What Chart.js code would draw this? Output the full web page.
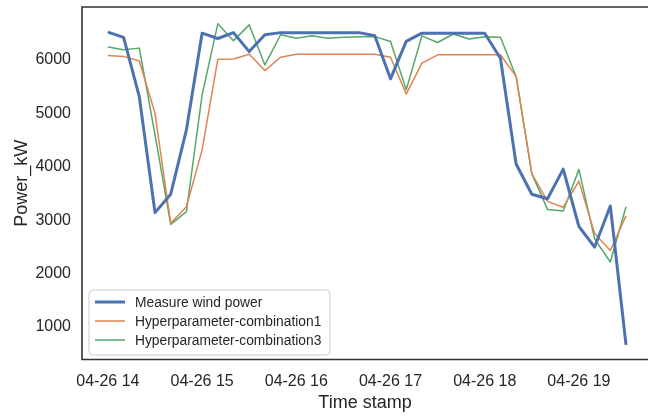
<!DOCTYPE html>
<html>
<head>
<meta charset="utf-8">
<script src="https://cdn.jsdelivr.net/npm/chart.js@4.4.1/dist/chart.umd.min.js"></script>
<style>
  html, body { margin: 0; padding: 0; background: #fff; }
</style>
</head>
<body>
<canvas id="chart" width="648" height="416"></canvas>
<script>
// 10 minute samples, 04-26 14:00 .. 19:30
const timestamps = [
  '04-26 14:00', '04-26 14:10', '04-26 14:20', '04-26 14:30', '04-26 14:40', '04-26 14:50',
  '04-26 15:00', '04-26 15:10', '04-26 15:20', '04-26 15:30', '04-26 15:40', '04-26 15:50',
  '04-26 16:00', '04-26 16:10', '04-26 16:20', '04-26 16:30', '04-26 16:40', '04-26 16:50',
  '04-26 17:00', '04-26 17:10', '04-26 17:20', '04-26 17:30', '04-26 17:40', '04-26 17:50',
  '04-26 18:00', '04-26 18:10', '04-26 18:20', '04-26 18:30', '04-26 18:40', '04-26 18:50',
  '04-26 19:00', '04-26 19:10', '04-26 19:20', '04-26 19:30'
];
const measuredPower = [
  6520, 6420, 5310, 3140, 3485, 4690, 6500, 6400, 6510, 6155, 6470, 6510,
  6510, 6510, 6510, 6510, 6510, 6450, 5645, 6345, 6500, 6500, 6500, 6500,
  6500, 6030, 4050, 3485, 3400, 3955, 2880, 2495, 3265, 665
];
const combo1Power = [
  6080, 6065, 5980, 5000, 2940, 3250, 4315, 6010, 6015, 6105, 5800, 6050,
  6105, 6105, 6105, 6105, 6105, 6105, 6050, 5360, 5940, 6095, 6095, 6095,
  6095, 6095, 5690, 3870, 3350, 3240, 3730, 2750, 2430, 3080
];
const combo3Power = [
  6240, 6190, 6220, 4600, 2920, 3160, 5345, 6675, 6360, 6655, 5905, 6470,
  6405, 6450, 6405, 6425, 6435, 6435, 6345, 5440, 6450, 6325, 6485, 6390,
  6435, 6425, 5690, 3870, 3200, 3170, 3950, 2650, 2215, 3250
];
const seriesNames = ['Measure wind power', 'Hyperparameter-combination1', 'Hyperparameter-combination3'];
const hourTicks = ['04-26 14', '04-26 15', '04-26 16', '04-26 17', '04-26 18', '04-26 19'];
const powerTicks = [1000, 2000, 3000, 4000, 5000, 6000];

const FONT = "'Liberation Sans', Arial, sans-serif";
const TEXT = '#262626';

function toMinutes(stamp) {
  const [h, m] = stamp.split(' ')[1].split(':').map(Number);
  return h * 60 + (m || 0);
}
function series(values) {
  return values.map((v, i) => ({x: toMinutes(timestamps[i]), y: v}));
}

// axes frame (left, top, bottom spines; right one falls off the canvas)
const framePlugin = {
  id: 'frame',
  afterDatasetsDraw(chart) {
    const {ctx, chartArea: a} = chart;
    ctx.save();
    ctx.strokeStyle = '#333';
    ctx.lineWidth = 1.6;
    ctx.beginPath();
    ctx.moveTo(a.right + 2, a.top);
    ctx.lineTo(a.left, a.top);
    ctx.lineTo(a.left, a.bottom);
    ctx.lineTo(a.right + 2, a.bottom);
    ctx.stroke();
    ctx.restore();
  }
};

// matplotlib style legend box in the lower left corner
const boxLegendPlugin = {
  id: 'boxLegend',
  afterDraw(chart) {
    const {ctx} = chart;
    const x = 89, y = 290, w = 241, h = 65, r = 4;
    ctx.save();
    ctx.fillStyle = 'rgba(255,255,255,0.85)';
    ctx.strokeStyle = '#cccccc';
    ctx.lineWidth = 1;
    ctx.beginPath();
    ctx.roundRect(x, y, w, h, r);
    ctx.fill();
    ctx.stroke();
    ctx.font = '13.8px ' + FONT;
    ctx.textBaseline = 'middle';
    ctx.fillStyle = TEXT;
    chart.data.datasets.forEach((ds, i) => {
      const ry = y + 12 + i * 19;
      ctx.strokeStyle = ds.borderColor;
      ctx.lineWidth = ds.borderWidth;
      ctx.beginPath();
      ctx.moveTo(x + 6, ry);
      ctx.lineTo(x + 36, ry);
      ctx.stroke();
      ctx.fillText(ds.label, x + 46, ry + 1);
    });
    ctx.restore();
  }
};

new Chart(document.getElementById('chart'), {
  type: 'line',
  data: {
    datasets: [
      {label: seriesNames[0], data: series(measuredPower), borderColor: '#4C72B0', borderWidth: 3},
      {label: seriesNames[1], data: series(combo1Power), borderColor: '#DD8452', borderWidth: 1.5},
      {label: seriesNames[2], data: series(combo3Power), borderColor: '#55A868', borderWidth: 1.5}
    ]
  },
  options: {
    responsive: false,
    animation: false,
    devicePixelRatio: 1,
    layout: {padding: {top: 7, right: 0, left: 0, bottom: 0}},
    elements: {
      point: {radius: 0},
      line: {tension: 0, borderJoinStyle: 'round', borderCapStyle: 'butt'}
    },
    plugins: {
      legend: {display: false},
      tooltip: {enabled: false}
    },
    scales: {
      x: {
        type: 'linear',
        min: 823.5,
        max: 1184,
        grid: {display: false, drawTicks: false},
        border: {display: false},
        afterFit(scale) {
          scale.height = 56.5;
          scale.paddingLeft = 0;
          scale.paddingRight = 0;
        },
        afterBuildTicks(scale) {
          scale.ticks = hourTicks.map(t => ({value: parseInt(t.split(' ')[1], 10) * 60}));
        },
        ticks: {
          padding: 12,
          color: TEXT,
          font: {family: FONT, size: 16},
          maxRotation: 0,
          autoSkip: false,
          callback: (v) => hourTicks.find(t => parseInt(t.split(' ')[1], 10) * 60 === v)
        },
        title: {
          display: true,
          text: 'Time stamp',
          color: TEXT,
          font: {family: FONT, size: 18},
          padding: {top: 0, bottom: 2}
        }
      },
      y: {
        min: 390,
        max: 6990,
        grid: {display: false, drawTicks: false},
        border: {display: false},
        afterFit(scale) {
          scale.width = 82;
          scale.paddingTop = 0;
          scale.paddingBottom = 0;
        },
        afterBuildTicks(scale) {
          scale.ticks = powerTicks.map(v => ({value: v}));
        },
        ticks: {
          padding: 11,
          color: TEXT,
          font: {family: FONT, size: 16},
          callback: (v) => String(v)
        },
        title: {
          display: true,
          text: 'Power_kW',
          color: TEXT,
          font: {family: FONT, size: 18},
          padding: {top: 11, bottom: 0}
        }
      }
    }
  },
  plugins: [framePlugin, boxLegendPlugin]
});
</script>
</body>
</html>
